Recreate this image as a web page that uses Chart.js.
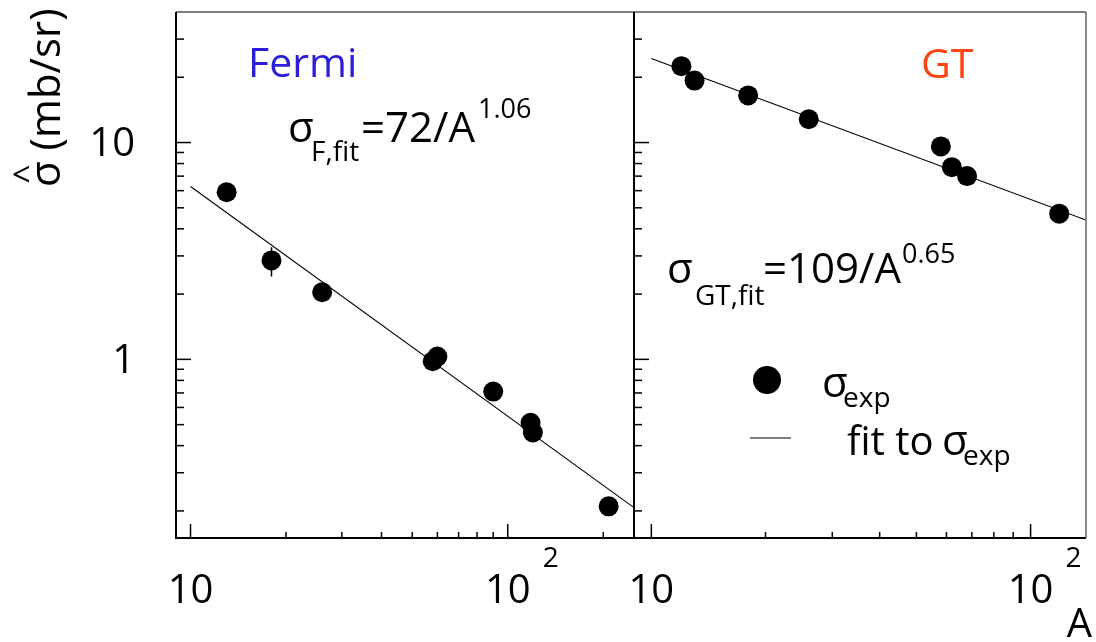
<!DOCTYPE html>
<html>
<head>
<meta charset="utf-8">
<script src="https://cdn.jsdelivr.net/npm/chart.js@4.4.1/dist/chart.umd.min.js"></script>
<style>
  html, body { margin: 0; padding: 0; background: #fff; }
  #wrap { position: relative; width: 1096px; height: 642px; }
  #wrap canvas { position: absolute; left: 0; top: 0; }
</style>
</head>
<body>
<div id="wrap">
  <canvas id="fermi-chart" width="1096" height="642"></canvas>
  <canvas id="gt-chart" width="1096" height="642"></canvas>
</div>
<script>
// Fermi panel: measured points (A, sigma) and fit line ends
const fermiA = [13, 18, 26, 58, 60, 90, 118, 120, 208];
const fermiSigma = [5.9, 2.86, 2.04, 0.98, 1.03, 0.71, 0.51, 0.46, 0.21];
const fermiErrLow = [null, 2.41, null, null, null, null, null, null, null];
const fermiErrHigh = [null, 3.29, null, null, null, null, null, null, null];
const fermiFitA = [10, 250];
const fermiFitSigma = [6.27, 0.207];

// GT panel
const gtA = [12, 13, 18, 26, 58, 62, 68, 119];
const gtSigma = [22.5, 19.3, 16.5, 12.8, 9.6, 7.7, 7.0, 4.7];
const gtFitA = [10, 140];
const gtFitSigma = [24.4, 4.39];

// axis ranges and labelled ticks
const yRange = [0.15, 40];
const fermiXRange = [9, 250];
const gtXRange = [9, 140];
const yTickValues = [1, 10];
const yTickLabels = ["1", "10"];
const xTickValues = [10, 100];
const xTickLabels = ["10", "10"];
const xTickExponents = ["", "2"];

const FONT = '"Open Sans", "DejaVu Sans", sans-serif';

function drawParts(ctx, parts) {
  parts.forEach((p) => {
    ctx.font = p.size + "px " + FONT;
    ctx.fillStyle = p.color || "#000";
    ctx.textAlign = p.align || "left";
    ctx.textBaseline = "alphabetic";
    ctx.fillText(p.t, p.x, p.y);
  });
}

// ROOT-like frame: inward ticks, decade labels, annotations
function makeFramePlugin(cfg) {
  return {
    id: "rootFrame",
    beforeDatasetsDraw(chart) {
      if (!cfg.err) return;
      const { ctx } = chart;
      const xs = chart.scales.x;
      const ys = chart.scales.y;
      ctx.save();
      ctx.strokeStyle = "#000";
      ctx.lineWidth = 1.5;
      cfg.err.a.forEach((a, i) => {
        if (cfg.err.low[i] == null) return;
        const px = xs.getPixelForValue(a);
        ctx.beginPath();
        ctx.moveTo(px, ys.getPixelForValue(cfg.err.low[i]));
        ctx.lineTo(px, ys.getPixelForValue(cfg.err.high[i]));
        ctx.stroke();
      });
      ctx.restore();
    },
    afterDraw(chart) {
      const { ctx, chartArea: area } = chart;
      const xs = chart.scales.x;
      const ys = chart.scales.y;
      ctx.save();

      // frame
      ctx.strokeStyle = "#000";
      ctx.lineWidth = 1.2;
      ctx.beginPath();
      ctx.moveTo(area.left, area.top);
      ctx.lineTo(area.right, area.top);
      ctx.stroke();
      ctx.lineWidth = 2;
      ctx.beginPath();
      ctx.moveTo(area.left, area.top);
      ctx.lineTo(area.left, area.bottom);
      ctx.lineTo(area.right, area.bottom);
      ctx.stroke();
      ctx.strokeStyle = cfg.rightColor;
      ctx.lineWidth = cfg.rightWidth;
      ctx.beginPath();
      ctx.moveTo(area.right, area.top);
      ctx.lineTo(area.right, area.bottom);
      ctx.stroke();

      // ticks (1..9 x 10^n inside the range)
      ctx.strokeStyle = "#000";
      ctx.lineWidth = 1.5;
      const eachTick = (scale, fn) => {
        const e0 = Math.floor(Math.log10(scale.min));
        const e1 = Math.ceil(Math.log10(scale.max));
        for (let e = e0; e <= e1; e++) {
          for (let m = 1; m <= 9; m++) {
            const v = parseFloat((m * Math.pow(10, e)).toPrecision(6));
            if (v > scale.min * 1.0001 && v < scale.max * 0.9999) fn(v, m === 1);
          }
        }
      };
      eachTick(ys, (v, major) => {
        const py = ys.getPixelForValue(v);
        ctx.beginPath();
        ctx.moveTo(area.left, py);
        ctx.lineTo(area.left + (major ? 15 : 8), py);
        ctx.stroke();
      });
      eachTick(xs, (v, major) => {
        const px = xs.getPixelForValue(v);
        ctx.beginPath();
        ctx.moveTo(px, area.bottom);
        ctx.lineTo(px, area.bottom - (major ? 14 : 6));
        ctx.stroke();
      });

      // tick labels
      ctx.fillStyle = "#000";
      if (cfg.yLabels) {
        ctx.font = "40px " + FONT;
        ctx.textAlign = "right";
        ctx.textBaseline = "middle";
        yTickValues.forEach((v, i) => {
          ctx.fillText(yTickLabels[i], 135, ys.getPixelForValue(v) + 2);
        });
      }
      xTickValues.forEach((v, i) => {
        const px = xs.getPixelForValue(v);
        ctx.font = "40px " + FONT;
        ctx.textAlign = "center";
        ctx.textBaseline = "alphabetic";
        ctx.fillText(xTickLabels[i], px, 603);
        if (xTickExponents[i]) {
          const w = ctx.measureText(xTickLabels[i]).width;
          ctx.font = "28px " + FONT;
          ctx.textAlign = "left";
          ctx.fillText(xTickExponents[i], px + w / 2 + 12, 567);
        }
      });

      drawParts(ctx, cfg.texts);
      if (cfg.after) cfg.after(ctx);
      ctx.restore();
    },
  };
}

function makeChart(id, a, sigma, fitA, fitSigma, xRange, padding, cfg) {
  return new Chart(document.getElementById(id), {
    type: "scatter",
    data: {
      datasets: [
        {
          label: "σexp",
          data: a.map((v, i) => ({ x: v, y: sigma[i] })),
          backgroundColor: "#000",
          borderWidth: 0,
          pointRadius: 10,
          pointHoverRadius: 10,
          showLine: false,
          order: 0,
        },
        {
          label: "fit to σexp",
          data: fitA.map((v, i) => ({ x: v, y: fitSigma[i] })),
          borderColor: "#000",
          borderWidth: 1.1,
          pointRadius: 0,
          showLine: true,
          fill: false,
          order: 1,
        },
      ],
    },
    options: {
      responsive: false,
      animation: false,
      events: [],
      layout: { padding },
      plugins: { legend: { display: false }, tooltip: { enabled: false } },
      scales: {
        x: { type: "logarithmic", min: xRange[0], max: xRange[1], display: false },
        y: { type: "logarithmic", min: yRange[0], max: yRange[1], display: false },
      },
    },
    plugins: [makeFramePlugin(cfg)],
  });
}

makeChart("fermi-chart", fermiA, fermiSigma, fermiFitA, fermiFitSigma, fermiXRange,
  { left: 176, right: 462, top: 12, bottom: 104 },
  {
    yLabels: true,
    rightColor: "#000",
    rightWidth: 2,
    err: { a: fermiA, low: fermiErrLow, high: fermiErrHigh },
    texts: [
      { t: "Fermi", x: 248, y: 77, size: 41, color: "#2a1ed6" },
      { t: "σ", x: 288, y: 142, size: 42 },
      { t: "F,fit", x: 311, y: 161, size: 28 },
      { t: "=72/A", x: 361, y: 142, size: 42 },
      { t: "1.06", x: 478, y: 118, size: 27 },
    ],
    after(ctx) {
      // y axis title, rotated
      ctx.save();
      ctx.translate(60, 187);
      ctx.rotate(-Math.PI / 2);
      ctx.font = "42px " + FONT;
      ctx.fillStyle = "#000";
      ctx.textAlign = "left";
      ctx.textBaseline = "alphabetic";
      ctx.fillText("σ (mb/sr)", 0, 0);
      ctx.font = "34px " + FONT;
      ctx.textAlign = "center";
      ctx.fillText("^", 13, -22);
      ctx.restore();
    },
  });

makeChart("gt-chart", gtA, gtSigma, gtFitA, gtFitSigma, gtXRange,
  { left: 634, right: 4, top: 12, bottom: 104 },
  {
    yLabels: false,
    rightColor: "#666",
    rightWidth: 1.5,
    texts: [
      { t: "GT", x: 921, y: 78, size: 41, color: "#ff4612" },
      { t: "σ", x: 667, y: 283, size: 42 },
      { t: "GT,fit", x: 695, y: 305, size: 28 },
      { t: "=109/A", x: 763, y: 283, size: 42 },
      { t: "0.65", x: 902, y: 263, size: 27 },
      { t: "σ", x: 822, y: 397, size: 42 },
      { t: "exp", x: 843, y: 407, size: 28 },
      { t: "fit to", x: 847, y: 455, size: 40 },
      { t: "σ", x: 942, y: 455, size: 42 },
      { t: "exp", x: 963, y: 465, size: 28 },
      { t: "A", x: 1092, y: 637, size: 40, align: "right" },
    ],
    after(ctx) {
      // legend glyphs
      ctx.fillStyle = "#000";
      ctx.beginPath();
      ctx.arc(767, 380, 14, 0, Math.PI * 2);
      ctx.fill();
      ctx.strokeStyle = "#555";
      ctx.lineWidth = 1.5;
      ctx.beginPath();
      ctx.moveTo(750, 438);
      ctx.lineTo(791, 438);
      ctx.stroke();
    },
  });
</script>
</body>
</html>
